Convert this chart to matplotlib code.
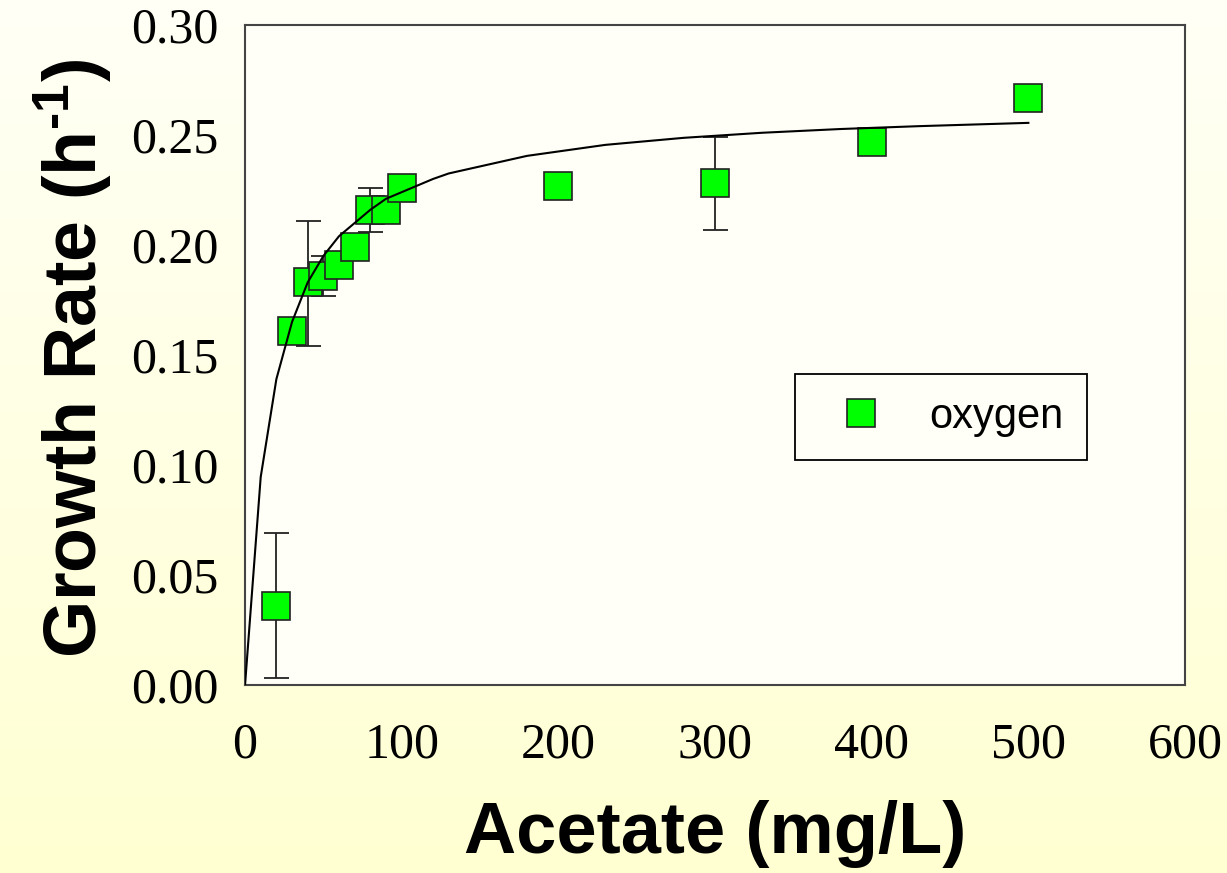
import numpy as np
import matplotlib
matplotlib.use('Agg')
from matplotlib import pyplot as plt
from matplotlib.colors import LinearSegmentedColormap

plt.rcParams['mathtext.fontset'] = 'custom'
plt.rcParams['mathtext.rm'] = 'Liberation Sans:bold'
plt.rcParams['mathtext.bf'] = 'Liberation Sans:bold'
plt.rcParams['mathtext.it'] = 'Liberation Sans:bold'

## DATA
acetate = [20, 30, 40, 50, 60, 70, 80, 90, 100, 200, 300, 400, 500]
growth = [0.036, 0.161, 0.183, 0.186, 0.191, 0.199, 0.216, 0.216, 0.226, 0.227, 0.228, 0.247, 0.267]
err_lo = [0.033, 0.0, 0.029, 0.009, 0.0, 0.0, 0.010, 0.0, 0.0, 0.0, 0.021, 0.0, 0.0]
err_hi = [0.033, 0.0, 0.028, 0.009, 0.0, 0.0, 0.010, 0.0, 0.0, 0.0, 0.021, 0.0, 0.0]

# fitted curve
fit_x = [0, 10, 20, 30, 40, 50, 60, 70, 80, 90, 100, 120, 130, 180, 230, 280, 330, 380, 430, 500]
fit_y = [0.0, 0.0945, 0.139, 0.165, 0.183, 0.195, 0.204, 0.210, 0.216, 0.221, 0.224,
         0.230, 0.2325, 0.2405, 0.2455, 0.2487, 0.251, 0.2527, 0.254, 0.2555]

xticks = [0, 100, 200, 300, 400, 500, 600]
yticks = [0.00, 0.05, 0.10, 0.15, 0.20, 0.25, 0.30]

fig = plt.figure(figsize=(12.27, 8.73), dpi=100)

# pale yellow gradient background
bg = fig.add_axes([0, 0, 1, 1], zorder=-10)
cmap = LinearSegmentedColormap.from_list('bg', ['#FFFFF6', '#FFFFD2'])
bg.imshow(np.linspace(0, 1, 256).reshape(-1, 1), aspect='auto', cmap=cmap,
          extent=[0, 1, 0, 1])
bg.axis('off')

ax = fig.add_axes([0.1997, 0.2154, 0.7661, 0.756])
ax.set_facecolor('#FFFFF7')

ax.errorbar(acetate, growth, yerr=[err_lo, err_hi], fmt='none', ecolor='#222222',
            elinewidth=1.3, capsize=9, capthick=1.3, zorder=2)
ax.plot(acetate, growth, 's', markersize=20, markerfacecolor='#00FF00',
        markeredgecolor='#222222', markeredgewidth=1.2, zorder=3, label='oxygen')
ax.plot(fit_x, fit_y, '-', color='black', linewidth=1.5, zorder=4)

ax.set_xlim(0, 600)
ax.set_ylim(0, 0.30)
ax.set_xticks(xticks)
ax.set_yticks(yticks)
ax.set_xticklabels([str(t) for t in xticks], family='Liberation Serif', fontsize=36)
ax.set_yticklabels(['%.2f' % t for t in yticks], family='Liberation Serif', fontsize=36)
ax.tick_params(axis='both', length=0)
ax.tick_params(axis='y', pad=19)
ax.tick_params(axis='x', pad=27)
for s in ax.spines.values():
    s.set_color('#444444')
    s.set_linewidth(1.5)

ax.set_xlabel('Acetate (mg/L)', family='Liberation Sans', fontweight='bold',
              fontsize=52, va='center')
ax.set_ylabel('Growth Rate (h$^{\u2010 1}$)', family='Liberation Sans', fontweight='bold',
              fontsize=53, va='center')
ax.xaxis.set_label_coords(0.5, -0.226)
ax.yaxis.set_label_coords(-0.183, 0.495)

leg = ax.legend(loc='upper left', bbox_to_anchor=(0.5851, 0.4712),
                prop={'family': 'Liberation Sans', 'size': 30}, frameon=True,
                fancybox=False, edgecolor='black', borderpad=0.55, handlelength=2.06,
                handletextpad=0.62, borderaxespad=0, markerscale=1.0)
leg.get_frame().set_linewidth(1.3)
leg.get_frame().set_facecolor('#FFFFF7')
leg.get_frame().set_alpha(1)

plt.savefig('out.png', dpi=100)
